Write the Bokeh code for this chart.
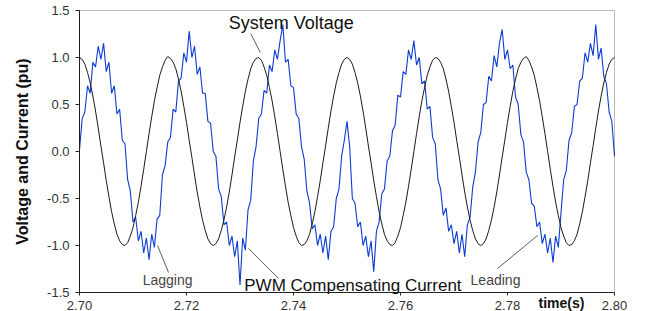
import numpy as np
from bokeh.plotting import figure
from bokeh.models import Label, FixedTicker, NumeralTickFormatter, ColumnDataSource, BoxAnnotation
from bokeh.embed import file_html
from bokeh.resources import INLINE

# ---- data ----
T0 = 2.70      # first sample time (s)
DT = 0.0005    # sample spacing (s)

system_voltage = [
    1.00, 0.98, 0.93, 0.84, 0.73, 0.59, 0.43, 0.25, 0.06, -0.12,
    -0.31, -0.48, -0.64, -0.77, -0.88, -0.95, -0.99, -1.00, -0.97, -0.90,
    -0.81, -0.68, -0.54, -0.37, -0.19, 0.00, 0.19, 0.37, 0.54, 0.68,
    0.81, 0.90, 0.97, 1.01, 0.99, 0.95, 0.88, 0.77, 0.64, 0.48,
    0.31, 0.12, -0.06, -0.25, -0.43, -0.59, -0.73, -0.84, -0.93, -0.98,
    -1.00, -0.98, -0.93, -0.84, -0.73, -0.59, -0.43, -0.25, -0.06, 0.12,
    0.31, 0.48, 0.64, 0.77, 0.88, 0.95, 0.99, 1.00, 0.97, 0.90,
    0.81, 0.68, 0.54, 0.37, 0.19, 0.00, -0.19, -0.37, -0.54, -0.68,
    -0.81, -0.90, -0.97, -1.00, -0.99, -0.95, -0.88, -0.77, -0.64, -0.48,
    -0.31, -0.12, 0.06, 0.25, 0.43, 0.59, 0.73, 0.84, 0.93, 0.98,
    1.00, 0.98, 0.93, 0.84, 0.73, 0.59, 0.43, 0.25, 0.06, -0.12,
    -0.31, -0.48, -0.64, -0.77, -0.88, -0.95, -0.99, -1.00, -0.97, -0.90,
    -0.81, -0.68, -0.54, -0.37, -0.19, 0.00, 0.19, 0.37, 0.54, 0.68,
    0.81, 0.90, 0.97, 1.00, 0.99, 0.95, 0.88, 0.77, 0.64, 0.48,
    0.31, 0.12, -0.06, -0.25, -0.43, -0.59, -0.73, -0.84, -0.93, -0.98,
    -1.00, -0.98, -0.93, -0.84, -0.73, -0.59, -0.43, -0.25, -0.06, 0.12,
    0.31, 0.48, 0.64, 0.77, 0.88, 0.95, 0.99, 1.01, 0.97, 0.90,
    0.81, 0.68, 0.54, 0.37, 0.19, 0.00, -0.19, -0.37, -0.54, -0.68,
    -0.81, -0.90, -0.97, -1.00, -0.99, -0.95, -0.88, -0.77, -0.64, -0.48,
    -0.31, -0.12, 0.06, 0.25, 0.43, 0.59, 0.73, 0.84, 0.93, 0.98,
    1.00,
]

pwm_current = [
    0.02, 0.35, 0.42, 0.70, 0.62, 0.95, 0.90, 1.12, 0.98, 1.15,
    0.85, 0.95, 0.62, 0.70, 0.40, 0.45, 0.12, 0.08, -0.30, -0.42,
    -0.75, -0.70, -0.95, -0.85, -1.08, -0.92, -1.15, -0.88, -1.02, -0.72,
    -0.68, -0.25, -0.15, 0.10, 0.15, 0.45, 0.42, 0.75, 0.78, 1.05,
    0.95, 1.28, 1.00, 1.12, 0.82, 0.90, 0.62, 0.62, 0.32, 0.30,
    0.00, -0.05, -0.40, -0.48, -0.78, -0.75, -1.00, -0.90, -1.12, -0.95,
    -1.42, -0.92, -1.05, -0.62, -0.52, -0.10, 0.05, 0.35, 0.40, 0.65,
    0.62, 0.92, 0.85, 1.08, 0.98, 1.18, 1.35, 0.95, 0.98, 0.70,
    0.68, 0.40, 0.35, 0.05, -0.08, -0.42, -0.55, -0.82, -0.78, -1.00,
    -0.88, -1.08, -0.90, -1.15, -0.85, -0.80, -0.50, -0.40, -0.05, 0.12,
    0.32, 0.05, -0.50, -0.55, -0.80, -0.75, -1.00, -0.90, -1.12, -0.95,
    -1.28, -0.85, -0.75, -0.45, -0.40, -0.10, -0.05, 0.22, 0.28, 0.60,
    0.58, 0.85, 0.82, 1.08, 0.98, 1.18, 0.92, 1.00, 0.72, 0.75,
    0.45, 0.48, 0.15, 0.08, -0.30, -0.40, -0.68, -0.60, -0.85, -0.78,
    -0.98, -0.85, -1.08, -0.88, -1.12, -0.78, -0.70, -0.38, -0.22, 0.10,
    0.20, 0.50, 0.52, 0.80, 0.75, 1.02, 0.90, 1.15, 1.30, 0.98,
    1.08, 0.88, 0.92, 0.58, 0.50, 0.18, 0.10, -0.22, -0.30, -0.55,
    -0.58, -0.80, -0.75, -0.98, -0.88, -1.08, -0.92, -1.18, -0.90, -1.02,
    -0.65, -0.30, -0.20, 0.12, 0.20, 0.48, 0.50, 0.75, 0.78, 1.05,
    0.95, 1.15, 1.02, 1.35, 0.98, 1.10, 0.80, 0.72, 0.42, 0.32,
    -0.05,
]

x_ticks = [2.70, 2.72, 2.74, 2.76, 2.78, 2.80]
y_ticks = [-1.5, -1.0, -0.5, 0.0, 0.5, 1.0, 1.5]
X_LIM = (2.70, 2.80)
Y_LIM = (-1.5, 1.5)

time_s = T0 + DT * np.arange(len(system_voltage))
src = ColumnDataSource(dict(t=time_s, v=system_voltage, i=pwm_current))

# ---- layout: the frame fills the canvas; axes sit at fixed data locations ----
W, H = 640, 311
PX_LEFT, PX_RIGHT, PX_TOP, PX_BOTTOM = 79, 614, 10, 292   # where the plot box lies
sx = (X_LIM[1] - X_LIM[0]) / (PX_RIGHT - PX_LEFT)
sy = (Y_LIM[1] - Y_LIM[0]) / (PX_BOTTOM - PX_TOP)
x_range = (X_LIM[0] - PX_LEFT * sx, X_LIM[1] + (W - PX_RIGHT) * sx)
y_range = (Y_LIM[0] - (H - PX_BOTTOM) * sy, Y_LIM[1] + PX_TOP * sy)

p = figure(width=W, height=H, x_range=x_range, y_range=y_range,
           output_backend="svg", toolbar_location=None, min_border=0,
           min_border_left=0, min_border_right=0, min_border_top=0, min_border_bottom=0)
p.grid.visible = False
p.outline_line_color = None
p.background_fill_color = "white"
p.border_fill_color = "white"

p.add_layout(BoxAnnotation(left=X_LIM[0], right=X_LIM[1], bottom=Y_LIM[0], top=Y_LIM[1],
                           fill_color=None, fill_alpha=0, line_color="#222222", line_width=1))

p.line("t", "i", source=src, line_color="#0b3bd4", line_width=1.1)
p.line("t", "v", source=src, line_color="#1a1a1a", line_width=1)

FONT = "Liberation Sans"
for ax in (p.xaxis[0], p.yaxis[0]):
    ax.axis_line_color = "#222222"
    ax.major_tick_line_color = "#222222"
    ax.minor_tick_line_color = None
    ax.major_tick_in = 0
    ax.major_label_text_font = FONT
    ax.major_label_text_font_size = "13px"
    ax.major_label_text_color = "#333333"

p.xaxis.fixed_location = Y_LIM[0]
p.xaxis.bounds = X_LIM
p.xaxis.ticker = FixedTicker(ticks=x_ticks)
p.xaxis.formatter = NumeralTickFormatter(format="0.00")
p.xaxis.major_tick_out = 3
p.xaxis.major_label_standoff = 5

p.yaxis.fixed_location = X_LIM[0]
p.yaxis.bounds = Y_LIM
p.yaxis.ticker = FixedTicker(ticks=y_ticks)
p.yaxis.formatter = NumeralTickFormatter(format="0.0")
p.yaxis.major_tick_out = 4
p.yaxis.major_label_standoff = 6
p.yaxis.axis_label = "Voltage and Current (pu)"
p.yaxis.axis_label_text_font = FONT
p.yaxis.axis_label_text_font_size = "16px"
p.yaxis.axis_label_text_font_style = "bold"
p.yaxis.axis_label_text_color = "#111111"
p.yaxis.axis_label_standoff = 13

# ---- annotations ----
def note(x, y, text, size, color="#111111", style="normal"):
    p.add_layout(Label(x=x, y=y, text=text, text_font=FONT, text_font_size=size,
                       text_color=color, text_font_style=style,
                       text_baseline="middle", text_align="left"))

note(2.7279, 1.372, "System Voltage", "18px")
note(2.7118, -1.362, "Lagging", "14px", color="#444444")
note(2.7308, -1.424, "PWM Compensating Current", "17px")
note(2.7731, -1.362, "Leading", "14px", color="#444444")
note(2.7858, -1.615, "time(s)", "14px", style="bold")

p.segment(x0=[2.7320, 2.71458, 2.7316, 2.78561],
          y0=[1.255, -1.000, -1.032, -0.894],
          x1=[2.7338, 2.71664, 2.7372, 2.77813],
          y1=[1.053, -1.287, -1.351, -1.245],
          line_color="#333333", line_width=0.8)

open("out.html", "w").write(file_html(p, INLINE))
